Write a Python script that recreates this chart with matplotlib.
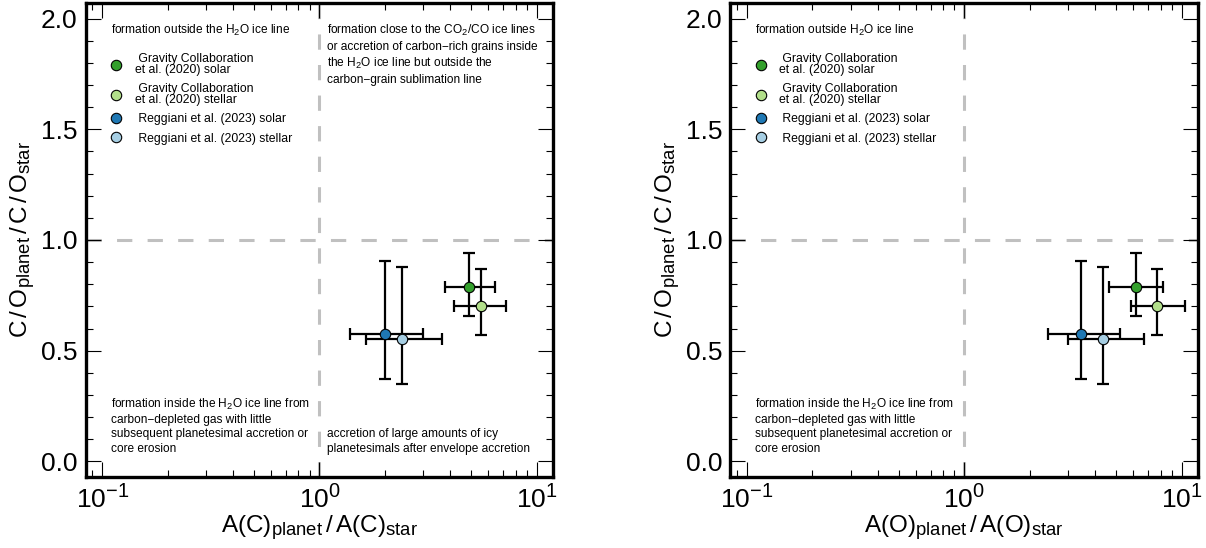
import matplotlib
matplotlib.use("Agg")
import matplotlib.pyplot as plt
import matplotlib._mathtext as _mt
from matplotlib.lines import Line2D
from matplotlib.ticker import LogLocator, MultipleLocator
import numpy as np

plt.rcParams['font.family'] = ['Liberation Sans', 'DejaVu Sans']
plt.rcParams['mathtext.fontset'] = 'custom'
plt.rcParams['mathtext.rm'] = 'Liberation Sans'
plt.rcParams['mathtext.it'] = 'Liberation Sans:italic'
plt.rcParams['mathtext.bf'] = 'Liberation Sans:bold'
_mt.SHRINK_FACTOR = 0.76

# ---- data ----
series_labels = [" Gravity Collaboration\net al. (2020) solar",
                 " Gravity Collaboration\net al. (2020) stellar",
                 " Reggiani et al. (2023) solar",
                 " Reggiani et al. (2023) stellar"]
series_colors = ["#33a02c", "#b2df8a", "#1f78b4", "#a6cee3"]

co_ratio = [0.787, 0.701, 0.576, 0.551]
co_low = [0.659, 0.569, 0.373, 0.352]
co_high = [0.942, 0.867, 0.907, 0.877]

c_ratio = [4.91, 5.52, 2.00, 2.41]
c_low = [3.78, 4.17, 1.38, 1.63]
c_high = [6.42, 7.27, 3.00, 3.67]

o_ratio = [6.16, 7.74, 3.46, 4.36]
o_low = [4.64, 5.84, 2.42, 2.99]
o_high = [8.25, 10.4, 5.20, 6.72]

xlabels = [r"A(C)$_{\mathrm{planet}}$$\,$/$\,$A(C)$_{\mathrm{star}}$",
           r"A(O)$_{\mathrm{planet}}$$\,$/$\,$A(O)$_{\mathrm{star}}$"]
ylabel = r"C$\,$/$\,$O$_{\mathrm{planet}}$$\,$/$\,$C$\,$/$\,$O$_{\mathrm{star}}$"

txt_ul = ["formation outside the H$_2$O ice line", "formation outside H$_2$O ice line"]
txt_ur = ("formation close to the CO$_2$/CO ice lines\n"
          "or accretion of carbon\u2212rich grains inside\n"
          "the H$_2$O ice line but outside the\n"
          "carbon\u2212grain sublimation line")
txt_ll = ("formation inside the H$_2$O ice line from\n"
          "carbon\u2212depleted gas with little\n"
          "subsequent planetesimal accretion or\n"
          "core erosion")
txt_lr = ("accretion of large amounts of icy\n"
          "planetesimals after envelope accretion")

fig = plt.figure(figsize=(12.06, 5.48), dpi=100)
ax1 = fig.add_axes([0.0713, 0.1296, 0.3872, 0.8649])
ax2 = fig.add_axes([0.6057, 0.1296, 0.3877, 0.8649])

ann_fs = 8.6
for k, (ax, xv, xl, xh) in enumerate([(ax1, c_ratio, c_low, c_high),
                                      (ax2, o_ratio, o_low, o_high)]):
    ax.set_xscale('log')
    ax.set_xlim(0.084, 11.9)
    ax.set_ylim(-0.07, 2.07)
    ax.axvline(1, color='#c0c0c0', lw=2.2, dashes=(5, 5), zorder=1)
    ax.axhline(1, color='#c0c0c0', lw=2.2, dashes=(5, 5), zorder=1)
    for i in range(4):
        xe = [[xv[i] - xl[i]], [xh[i] - xv[i]]]
        ye = [[co_ratio[i] - co_low[i]], [co_high[i] - co_ratio[i]]]
        ax.errorbar([xv[i]], [co_ratio[i]], xerr=xe, yerr=ye, fmt='none',
                    ecolor='black', elinewidth=1.6, capsize=4.3, capthick=1.6, zorder=2)
    for i in range(4):
        ax.plot([xv[i]], [co_ratio[i]], 'o', ms=7.5, mfc=series_colors[i],
                mec='black', mew=0.8, zorder=3)

    for s in ax.spines.values():
        s.set_linewidth(2.4)
    ax.xaxis.set_major_locator(LogLocator(base=10, numticks=10))
    ax.xaxis.set_minor_locator(LogLocator(base=10, subs=np.arange(2, 10), numticks=10))
    ax.yaxis.set_major_locator(MultipleLocator(0.5))
    ax.yaxis.set_minor_locator(MultipleLocator(0.1))
    ax.tick_params(which='both', direction='in', top=True, right=True, width=0.8)
    ax.tick_params(which='major', length=10.5, labelsize=19, pad=6)
    ax.tick_params(which='minor', length=5)
    ax.set_xlabel(xlabels[k], fontsize=17.5, labelpad=0)
    ax.set_ylabel(ylabel, fontsize=17.5, labelpad=2)

    ax.text(0.053, 0.958, txt_ul[k], transform=ax.transAxes, fontsize=ann_fs,
            ha='left', va='top')
    ax.text(0.053, 0.047, txt_ll, transform=ax.transAxes, fontsize=ann_fs,
            ha='left', va='bottom', linespacing=1.25)

    handles = [Line2D([], [], ls='none', marker='o', ms=7.5, mfc=c, mec='black', mew=0.8)
               for c in series_colors]
    leg = ax.legend(handles, series_labels, loc='upper left', bbox_to_anchor=(0.052, 0.894),
                    frameon=False, fontsize=8.8, handlelength=1.0, handletextpad=1.0,
                    labelspacing=0.6, borderaxespad=0, borderpad=0)
    for t in leg.get_texts():
        t.set_linespacing(0.85)

ax1.text(0.517, 0.958, txt_ur, transform=ax1.transAxes, fontsize=ann_fs,
         ha='left', va='top', linespacing=1.3)
ax1.text(0.517, 0.047, txt_lr, transform=ax1.transAxes, fontsize=ann_fs,
         ha='left', va='bottom', linespacing=1.25)

fig.savefig("out.png", dpi=100)
